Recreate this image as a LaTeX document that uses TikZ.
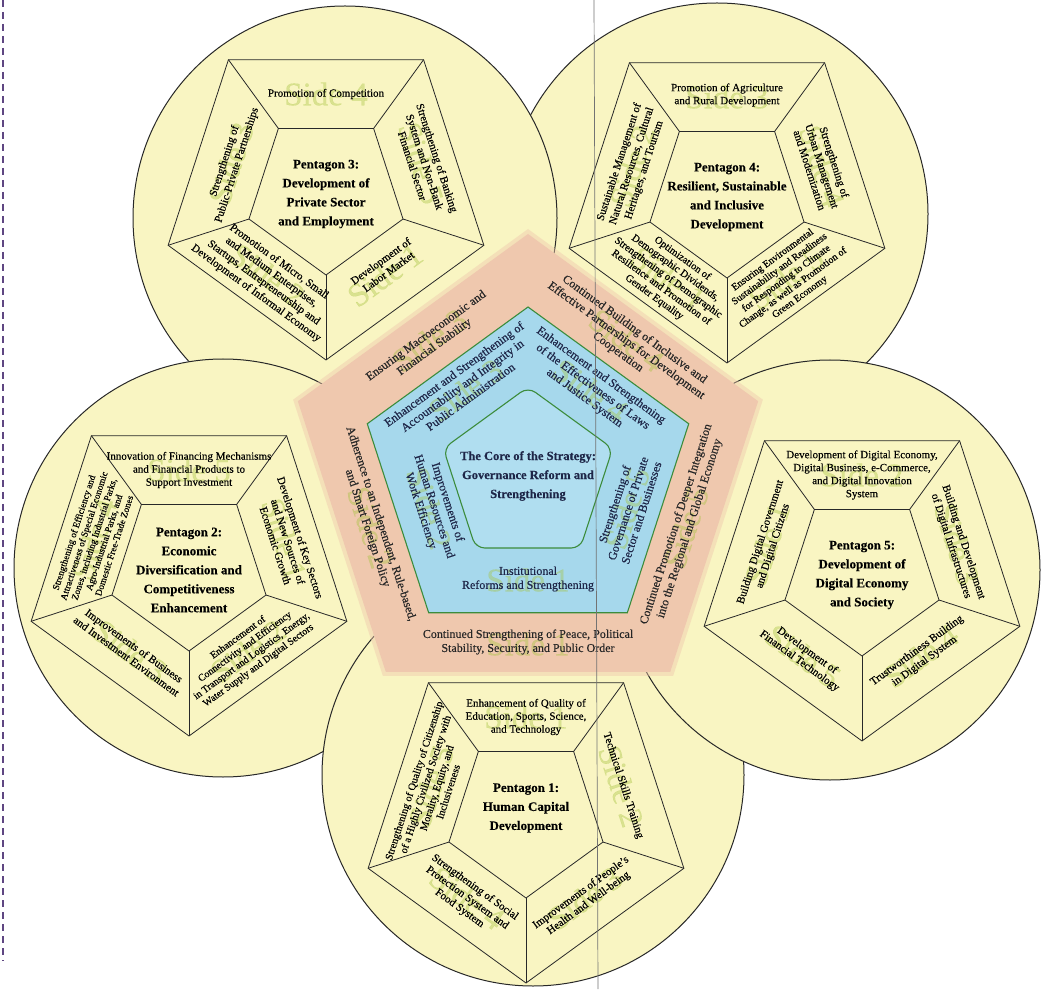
\documentclass[tikz,border=0pt]{standalone}
\usepackage{fontspec}
\setmainfont{Liberation Serif}[FakeBold=0.3]
\usetikzlibrary{calc}
\definecolor{circfill}{RGB}{249,245,194}
\definecolor{salm}{RGB}{239,200,174}
\definecolor{skyb}{RGB}{166,216,236}
\definecolor{skyin}{RGB}{176,222,240}
\definecolor{pgreen}{RGB}{60,140,60}
\definecolor{navy}{RGB}{30,38,72}
\definecolor{inkc}{RGB}{40,40,40}
\definecolor{dashc}{RGB}{95,70,130}
\definecolor{ghostc}{RGB}{165,195,60}
\tikzset{
  circ/.style={fill=circfill, draw=inkc, line width=1pt},
  pline/.style={draw=inkc, line width=0.8pt, line join=miter},
  st/.style={align=center, inner sep=0pt, text=black, font=\fontsize{11}{13}\selectfont},
  stfive/.style={st, font=\fontsize{10.5}{12}\selectfont},
  stsm/.style={st, font=\fontsize{10}{11.5}\selectfont},
  sttiny/.style={st, font=\fontsize{9.4}{10.6}\selectfont},
  ttl/.style={align=center, inner sep=0pt, text=black, font=\bfseries\fontsize{13}{19}\selectfont},
  ct/.style={align=center, inner sep=0pt, text=navy, font=\fontsize{12}{14}\selectfont},
  cst/.style={align=center, inner sep=0pt, text=black!85, font=\fontsize{12}{14}\selectfont},
  coretl/.style={align=center, inner sep=0pt, text=navy, font=\bfseries\fontsize{12.5}{19}\selectfont},
  ghost/.style={inner sep=0pt, text=ghostc, text opacity=0.38, font=\fontsize{33}{33}\selectfont},
}
\newcommand{\subpent}[3]{%
  \coordinate (#1c) at (#2,#3);
  \foreach \k in {0,...,4}{%
    \coordinate (#1o\k) at ($(#1c)+({-90+72*\k}:166pt)$);
    \coordinate (#1i\k) at ($(#1c)+({-90+72*\k}:81pt)$);
  }
  \draw[pline] (#1o0)--(#1o1)--(#1o2)--(#1o3)--(#1o4)--cycle;
  \draw[pline] (#1i0)--(#1i1)--(#1i2)--(#1i3)--(#1i4)--cycle;
  \foreach \k in {0,...,4}{\draw[pline] (#1o\k)--(#1i\k);}
}
% ghost labels: name, top, upper-right, lower-right, lower-left, upper-left
\newcommand{\subghost}[6]{%
  \node[ghost] (#1gt) at ($(#1c)+(90:100pt)$) {Side #2};
  \node[ghost,rotate=-72] (#1gur) at ($(#1c)+(18:100pt)$) {Side #3};
  \node[ghost,rotate=36] (#1glr) at ($(#1c)+(-54:100pt)$) {Side #4};
  \node[ghost,rotate=-36] (#1gll) at ($(#1c)+(-126:100pt)$) {Side #5};
  \node[ghost,rotate=72] (#1gul) at ($(#1c)+(162:100pt)$) {Side #6};
}
\newcommand{\cpent}[2]{%
  ($(#1)+(90:#2)$) -- ($(#1)+(162:#2)$) -- ($(#1)+(234:#2)$) -- ($(#1)+(306:#2)$) -- ($(#1)+(18:#2)$) -- cycle
}
\begin{document}
\begin{tikzpicture}[x=1pt,y=1pt]
\useasboundingbox (0,0) rectangle (1046,989);
\fill[white] (0,0) rectangle (1046,989);

% ---------- circle 4 (top right) ----------
\coordinate (k4) at (717,775);
\draw[circ] (k4) circle[radius=211pt];
\subpent{p4}{727}{792}
\subghost{p4}{3}{4}{5}{1}{2}
\node[st] (p4t) at ($(p4c)+(90:102pt)$) {Promotion of Agriculture\\and Rural Development};
\node[st,rotate=-72] (p4ur) at ($(p4c)+(18:100pt)$) {Strengthening of\\Urban Management\\and Modernization};
\node[stsm,rotate=36] (p4lr) at ($(p4c)+(-54:101pt)$) {Ensuring Environmental\\Sustainability and Readiness\\for Responding to Climate\\Change, as well as Promotion of\\Green Economy};
\node[stfive,rotate=-36] (p4ll) at ($(p4c)+(-126:100pt)$) {Optimization of\\Demographic Dividends,\\Strengthening of Demographic\\Resilience and Promotion of\\Gender Equality};
\node[st,rotate=72] (p4ul) at ($(p4c)+(162:100pt)$) {Sustainable Management of\\Natural Resources, Cultural\\Heritages, and Tourism};
\node[ttl] (p4n) at (p4c) {Pentagon 4:\\Resilient, Sustainable\\and Inclusive\\Development};

% ---------- circle 3 (top left) ----------
\coordinate (k3) at (345,771);
\draw[circ] (k3) circle[radius=212pt];
\subpent{p3}{326}{795}
\subghost{p3}{4}{5}{1}{2}{3}
\node[st] (p3t) at ($(p3c)+(90:100pt)$) {Promotion of Competition};
\node[st,rotate=-72] (p3ur) at ($(p3c)+(18:104pt)$) {Strengthening of Banking\\System and Non-Bank\\Financial Sector};
\node[st,rotate=36] (p3lr) at ($(p3c)+(-51:93pt)$) {Development of\\Labor Market};
\node[st,rotate=-36] (p3ll) at ($(p3c)+(-125:102pt)$) {Promotion of Micro, Small\\and Medium Enterprises,\\Startups, Entrepreneurship and\\Development of Informal Economy};
\node[st,rotate=72] (p3ul) at ($(p3c)+(162:100pt)$) {Strengthening of\\Public-Private Partnerships};
\node[ttl] (p3n) at (p3c) {Pentagon 3:\\Development of\\Private Sector\\and Employment};

% ---------- circle 2 (left) ----------
\coordinate (k2) at (223,421);
\draw[circ] (k2) circle[radius=209pt];
\subpent{p2}{189}{419}
\subghost{p2}{5}{1}{2}{3}{4}
\node[st] (p2t) at ($(p2c)+(90:100pt)$) {Innovation of Financing Mechanisms\\and Financial Products to\\Support Investment};
\node[st,rotate=-72] (p2ur) at ($(p2c)+(16:103pt)$) {Development of Key Sectors\\and New Sources of\\Economic Growth};
\node[stsm,rotate=36] (p2lr) at ($(p2c)+(-54:101pt)$) {Enhancement of\\Connectivity and Efficiency\\in Transport and Logistics, Energy,\\Water Supply and Digital Sectors};
\node[st,rotate=-36] (p2ll) at ($(p2c)+(-126:100pt)$) {Improvements of Business\\and Investment Environment};
\node[sttiny,rotate=72] (p2ul) at ($(p2c)+(162:100pt)$) {Strengthening of Efficiency and\\Attractiveness of Special Economic\\Zones, including Industrial Parks,\\Agro-Industrial Parks, and\\Domestic Free-Trade Zones};
\node[ttl] (p2n) at (p2c) {Pentagon 2:\\Economic\\Diversification and\\Competitiveness\\Enhancement};

% ---------- circle 1 (bottom) ----------
\coordinate (k1) at (533,214);
\draw[circ] (k1) circle[radius=211pt];
\subpent{p1}{526}{172}
\subghost{p1}{1}{2}{3}{4}{5}
\node[st] (p1t) at ($(p1c)+(90:100pt)$) {Enhancement of Quality of\\Education, Sports, Science,\\and Technology};
\node[st,rotate=-72] (p1ur) at ($(p1c)+(18:102pt)$) {Technical Skills Training};
\node[st,rotate=36] (p1lr) at ($(p1c)+(-54:100pt)$) {Improvements of People's\\Health and Well-being};
\node[st,rotate=-36] (p1ll) at ($(p1c)+(-126:100pt)$) {Strengthening of Social\\Protection System and\\Food System};
\node[stfive,rotate=72] (p1ul) at ($(p1c)+(162:100pt)$) {Strengthening of Quality of Citizenship\\of a Highly Civilized Society with\\Morality, Equity, and\\Inclusiveness};
\node[ttl] (p1n) at ($(p1c)+(0,9)$) {Pentagon 1:\\Human Capital\\Development};

% ---------- circle 5 (right) ----------
\coordinate (k5) at (830,419);
\draw[circ] (k5) circle[radius=210pt];
\subpent{p5}{862}{414}
\subghost{p5}{2}{3}{4}{5}{1}
\node[st] (p5t) at ($(p5c)+(90:100pt)$) {Development of Digital Economy,\\Digital Business, e-Commerce,\\and Digital Innovation\\System};
\node[st,rotate=-72] (p5ur) at ($(p5c)+(18:100pt)$) {Building and Development\\of Digital Infrastructures};
\node[st,rotate=36] (p5lr) at ($(p5c)+(-54:100pt)$) {Trustworthiness Building\\in Digital System};
\node[st,rotate=-36] (p5ll) at ($(p5c)+(-126:100pt)$) {Development of\\Financial Technology};
\node[st,rotate=72] (p5ul) at ($(p5c)+(162:100pt)$) {Building Digital Government\\and Digital Citizens};
\node[ttl] (p5n) at (p5c) {Pentagon 5:\\Development of\\Digital Economy\\and Society};

% ---------- central pentagon ----------
\coordinate (C) at (528,513);
\fill[salm, opacity=0.45] \cpent{C}{247pt};
\fill[salm] \cpent{C}{242pt};
\fill[skyb, draw=pgreen, line width=1.1pt, line join=miter] \cpent{C}{169pt};
\fill[skyin, draw=pgreen, line width=1.1pt, rounded corners=9pt] \cpent{C}{89pt};

% ghost labels of the central pentagon
\node[ghost] (gs1) at ($(C)+(-90:168pt)$) {Side 1};
\node[ghost,rotate=-72] (gs2) at ($(C)+(198:166pt)$) {Side 2};
\node[ghost,rotate=36] (gs3) at ($(C)+(126:168pt)$) {Side 3};
\node[ghost,rotate=-36] (gs4) at ($(C)+(54:168pt)$) {Side 4};
\node[ghost,rotate=72] (gs5) at ($(C)+(-18:166pt)$) {Side 5};
\node[ghost] (gb1) at ($(C)+(-90:104pt)$) {Side 1};
\node[ghost,rotate=-72] (gb2) at ($(C)+(198:104pt)$) {Side 2};
\node[ghost,rotate=36] (gb3) at ($(C)+(126:106pt)$) {Side 3};
\node[ghost,rotate=-36] (gb4) at ($(C)+(54:106pt)$) {Side 4};
\node[ghost,rotate=72] (gb5) at ($(C)+(-18:104pt)$) {Side 5};

\node[cst,rotate=36] (s1) at ($(C)+(126:166pt)$) {Ensuring Macroeconomic and\\Financial Stability};
\node[cst,rotate=-36] (s2) at ($(C)+(54:167pt)$) {Continued Building of Inclusive and\\Effective Partnerships for Development\\Cooperation};
\node[cst,rotate=72] (s3) at ($(C)+(-18:163pt)$) {Continued Promotion of Deeper Integration\\into the Regional and Global Economy};
\node[cst] (s4) at ($(C)+(-90:166pt)$) {Continued Strengthening of Peace, Political\\Stability, Security, and Public Order};
\node[cst,rotate=-72] (s5) at ($(C)+(198:162pt)$) {Adherence to an Independent, Rule-based,\\and Smart Foreign Policy};

\node[ct,rotate=36] (b1) at ($(C)+(126:112pt)$) {Enhancement and Strengthening of\\Accountability and Integrity in\\Public Administration};
\node[ct,rotate=-36] (b2) at ($(C)+(54:110pt)$) {Enhancement and Strengthening\\of the Effectiveness of Laws\\and Justice System};
\node[ct,rotate=72] (b3) at ($(C)+(-18:105pt)$) {Strengthening of\\Governance of Private\\Sector and Businesses};
\node[ct] (b4) at ($(C)+(-90:103pt)$) {Institutional\\Reforms and Strengthening};
\node[ct,rotate=-72] (b5) at ($(C)+(198:99pt)$) {Improvements of\\Human Resources and\\Work Efficiency};

\node[coretl] (core) at (C) {The Core of the Strategy:\\Governance Reform and\\Strengthening};

% ---------- scan artefacts ----------
\draw[black!55, line width=0.7pt] (594,989) -- (598,0);
\draw[dashc, line width=1.3pt, dash pattern=on 7pt off 5pt] (3,989) -- (3,28);
\end{tikzpicture}
\end{document}
